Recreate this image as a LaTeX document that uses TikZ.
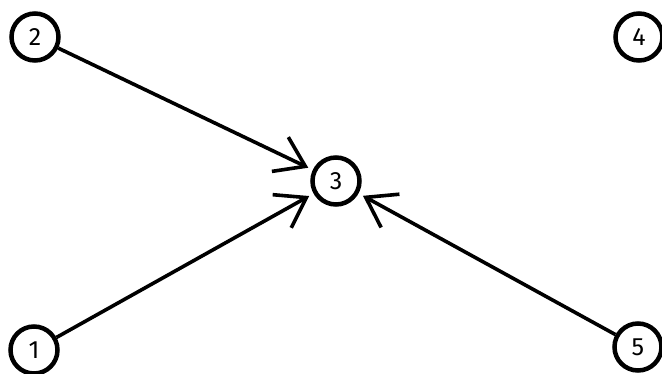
\documentclass[tikz,border=0pt]{standalone}
\usepackage{fontspec}
\setmainfont{Fira Sans}
\usetikzlibrary{arrows.meta}
\begin{document}
\begin{tikzpicture}[x=1pt,y=-1pt,
  vertex/.style={circle,draw,line width=4.5pt,minimum size=47pt,inner sep=0pt,font=\fontsize{25}{27}\selectfont},
  edge/.style={line width=3.6pt,-{Straight Barb[length=28pt,width=38pt,line width=3.6pt]},shorten >=5pt}]
\useasboundingbox (0,0) rectangle (662,373);
\node[vertex] (n2) at (35,37) {2};
\node[vertex] (n4) at (639,37) {4};
\node[vertex] (n3) at (336,181) {3};
\node[vertex] (n1) at (34,350) {1};
\node[vertex] (n5) at (638,347) {5};
\draw[edge] (n2) -- (n3);
\draw[edge] (n1) -- (n3);
\draw[edge] (n5) -- (n3);
\end{tikzpicture}
\end{document}
